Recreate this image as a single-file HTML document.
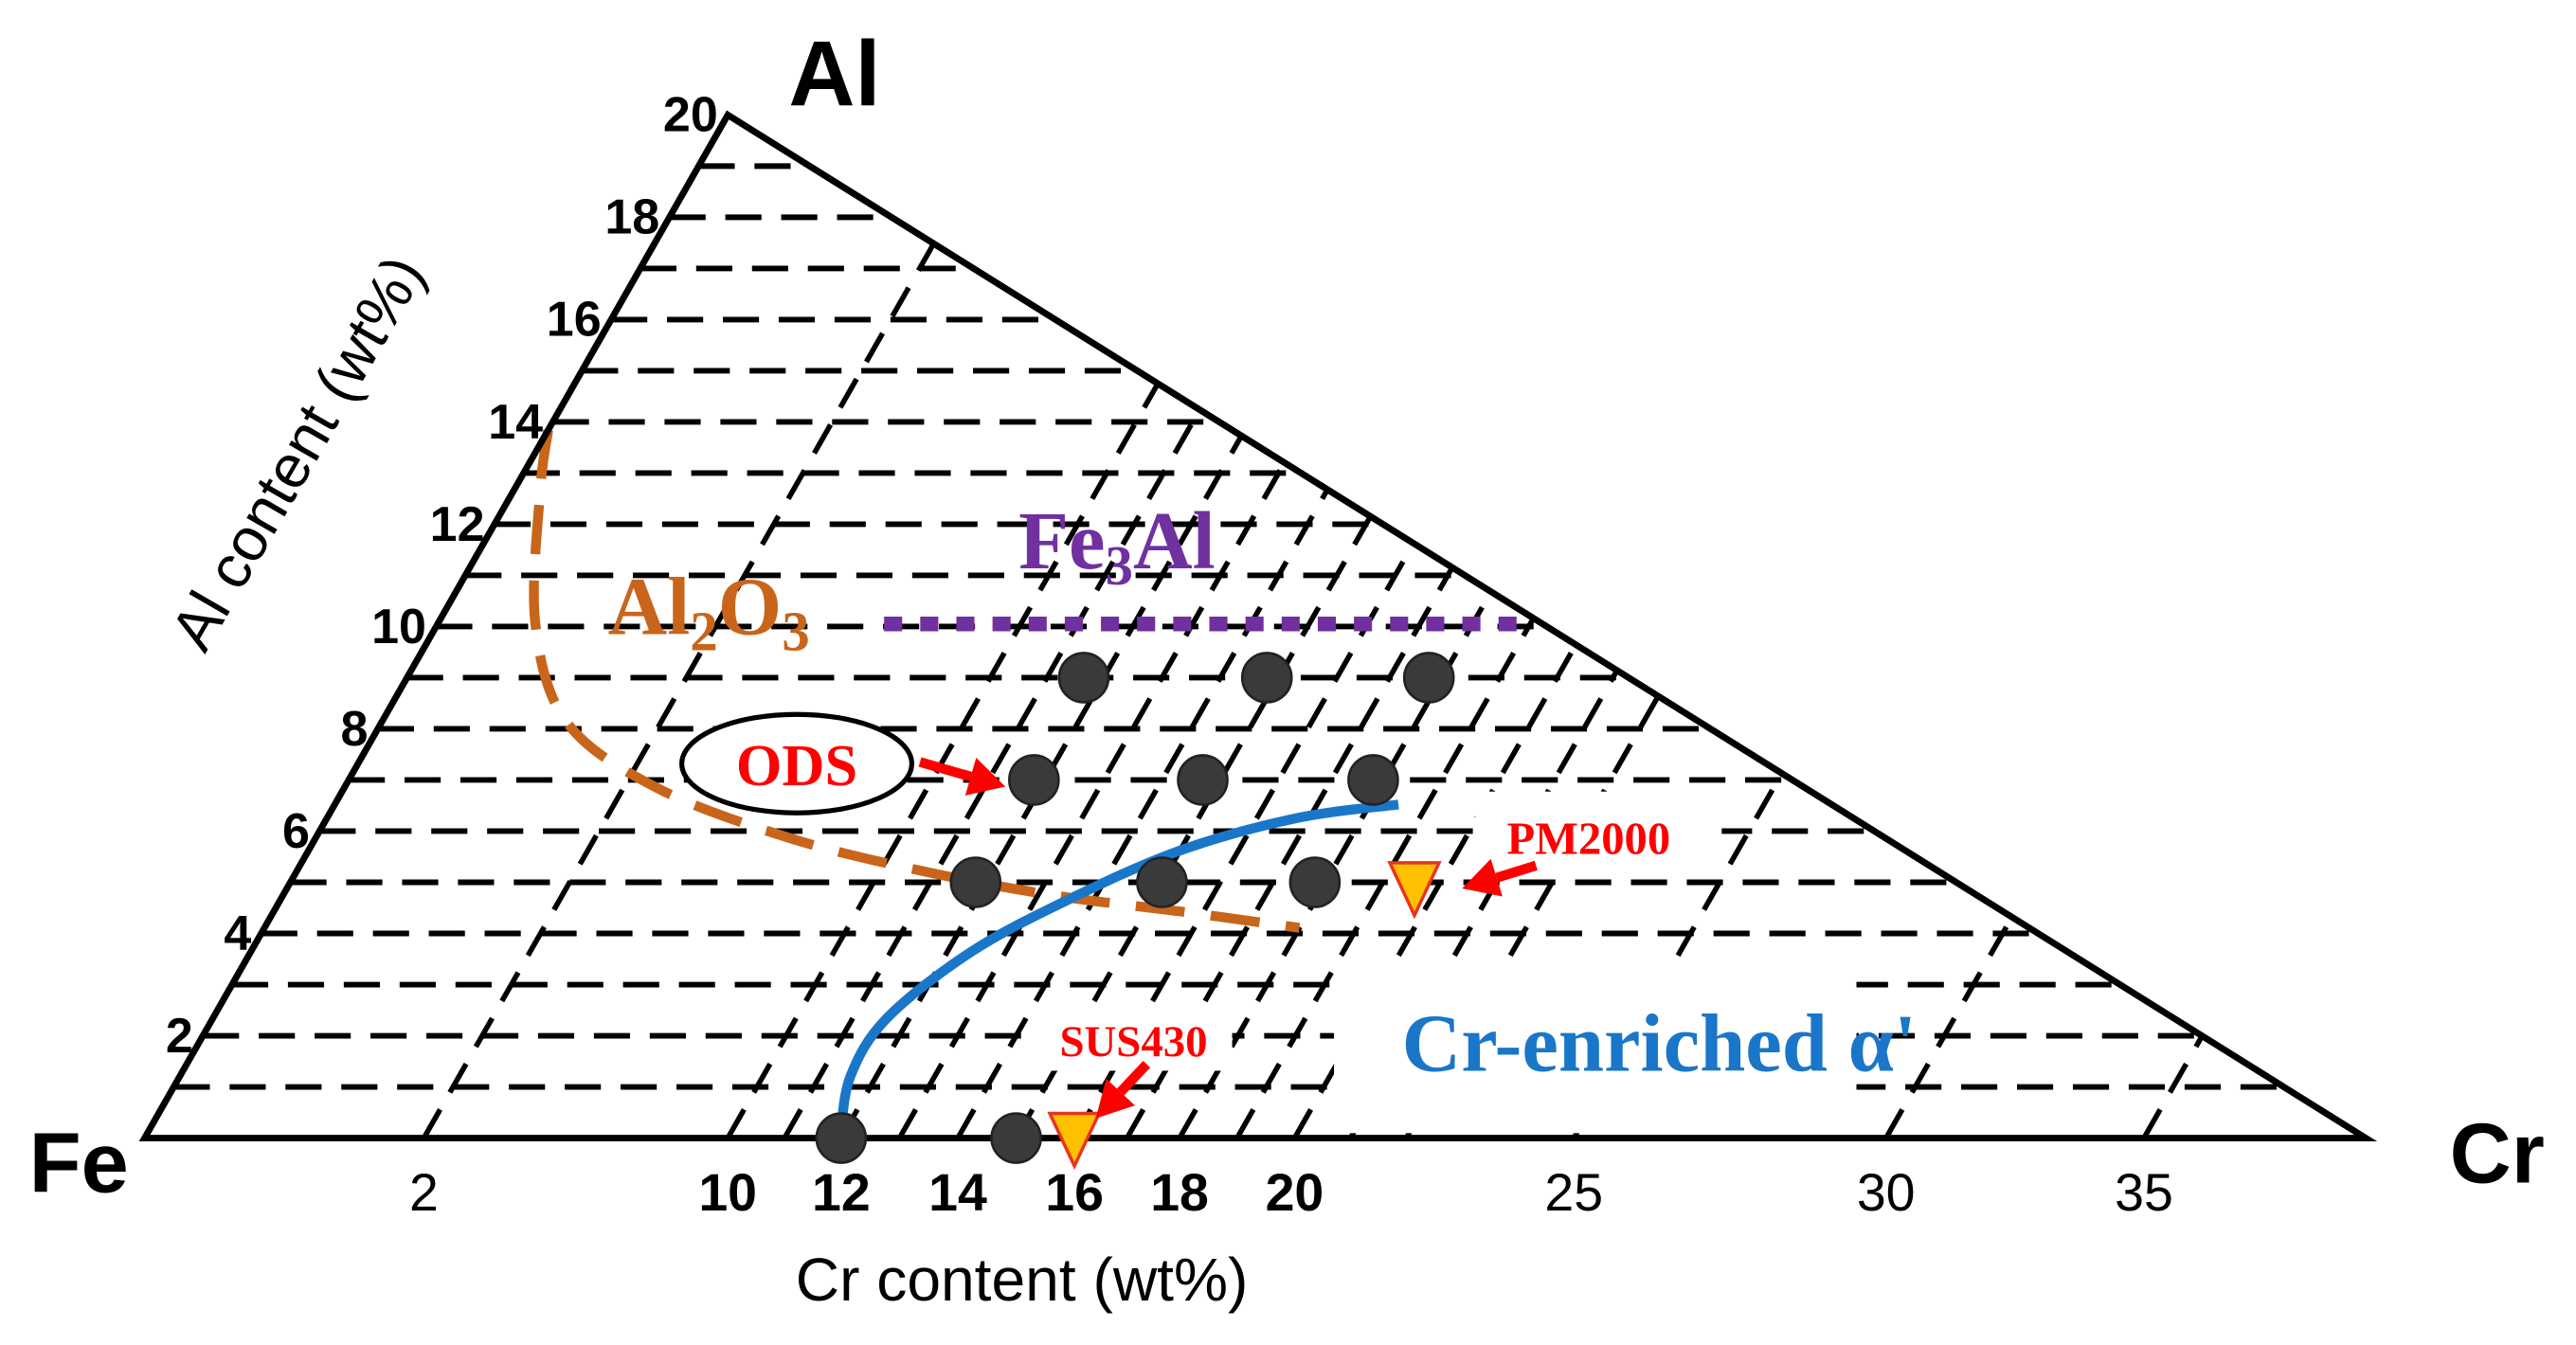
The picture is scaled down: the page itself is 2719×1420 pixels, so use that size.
<!DOCTYPE html>
<html><head><meta charset="utf-8"><style>
html,body{margin:0;padding:0;background:#fff;}
svg{display:block;}
</style></head><body>
<svg id="chart" width="2719" height="1420" viewBox="0 0 1568 819" preserveAspectRatio="none" xmlns="http://www.w3.org/2000/svg">
<g id="grid"></g>
<g id="masks"></g>
<g id="curves"></g>
<g id="frame"></g>
<g id="marks"></g>
<g id="labels"></g>
</svg>
<script>
// ---- data ----
const alTicks = [2,4,6,8,10,12,14,16,18,20];
const crTickValues = [2,10,12,14,16,18,20,25,30,35];
const crTickLabels = ["2","10","12","14","16","18","20","25","30","35"];
const crTickBold = [false,true,true,true,true,true,true,false,false,false];
const crGridValues = [2,10,11,12,13,14,15,16,17,18,19,20,21,22,25,30,35];
const alGridValues = [1,2,3,4,5,6,7,8,9,10,11,12,13,14,15,16,17,18,19];
const sampleCr = [11.65,14.8,17.75,11.8,14.7,17.8,11.8,15,17.8,12,15];
const sampleAl = [9,9,9,7,7,7,5,5,5,0,0];
const refNames = ["PM2000","SUS430"];
const refCr = [19.6,16];
const refAl = [4.9,0];
const al2o3Cr = [0,0.2,0.7,1.33,2.9,7.1,10.7,13.24,15.6,18.0];
const al2o3Al = [13.84,12.6,10.05,8.12,6.84,5.87,5.23,4.75,4.43,4.11];
const alphaCr = [11.94,11.54,11.6,12.4,13.55,15.0,16.78,18.5];
const alphaAl = [0.1,1.22,2.34,3.63,4.65,5.62,6.26,6.52];
const fe3alCr = [6.4,18.9];
const fe3alAl = [10.05,10.05];

// ---- axis (Cr axis is piecewise, as in the reference) ----
const axCr = [0,2,10,12,14,16,18,20,25,30,35,39];
const axPx = [88,258,443,512,583,654,718,788,958,1148,1305,1440];
const Y0=693, AL_PX=31.15, AL_DX=17.75, RIGHT_DX=49.85;
function baseX(c){
  for(let i=0;i<axCr.length-1;i++){
    if(c<=axCr[i+1]||i===axCr.length-2){
      return axPx[i]+(c-axCr[i])/(axCr[i+1]-axCr[i])*(axPx[i+1]-axPx[i]);
    }
  }
}
function px(c,a){return baseX(c)+a*AL_DX;}
function py(a){return Y0-a*AL_PX;}
const NS="http://www.w3.org/2000/svg";
function mk(tag,attrs,parent){const e=document.createElementNS(NS,tag);for(const k in attrs)e.setAttribute(k,attrs[k]);parent.appendChild(e);return e;}
const G=id=>document.getElementById(id);

alGridValues.forEach(a=>{
  const y=py(a);
  const l=mk('line',{x1:88+a*AL_DX,y1:y,x2:1440-a*RIGHT_DX,y2:y,stroke:'#000','stroke-width':3.4,'stroke-dasharray':'22 12'},G('grid'));
  
  
});
crGridValues.forEach(c=>{
  const b=baseX(c);
  const aTop=(1440-b)/(AL_DX+RIGHT_DX);
  const l=mk('line',{x1:b,y1:Y0,x2:b+aTop*AL_DX,y2:py(aTop),stroke:'#000','stroke-width':3.2,'stroke-dasharray':'20 12'},G('grid'));
  
  
});
[[812,585,318,105],[628,612,122,40],[898,482,150,48]].forEach(r=>{
  const e=mk('rect',{x:r[0],y:r[1],width:r[2],height:r[3],fill:'#fff'},G('masks'));
  
  
});
function pathFrom(cs,as){
  let pts=cs.map((c,i)=>[px(c,as[i]),py(as[i])]);
  let d='M'+pts[0].join(',');
  for(let i=1;i<pts.length;i++){
    const p0=pts[Math.max(0,i-2)],p1=pts[i-1],p2=pts[i],p3=pts[Math.min(pts.length-1,i+1)];
    const c1=[p1[0]+(p2[0]-p0[0])/6,p1[1]+(p2[1]-p0[1])/6];
    const c2=[p2[0]-(p3[0]-p1[0])/6,p2[1]-(p3[1]-p1[1])/6];
    d+=' C'+c1.join(',')+' '+c2.join(',')+' '+p2.join(',');
  }
  return d;
}
const al2=mk('path',{d:pathFrom(al2o3Cr,al2o3Al),fill:'none',stroke:'#c8651b','stroke-width':6,'stroke-dasharray':'30 16'},G('curves'));


const alp=mk('path',{d:pathFrom(alphaCr,alphaAl),fill:'none',stroke:'#1a76c8','stroke-width':6},G('curves'));


const fe=mk('line',{x1:px(fe3alCr[0],fe3alAl[0]),y1:py(fe3alAl[0]),x2:px(fe3alCr[1],fe3alAl[1]),y2:py(fe3alAl[1]),stroke:'#7030a0','stroke-width':9,'stroke-dasharray':'11 11'},G('curves'));


const fr=mk('polygon',{points:'88,693 443,70 1440,693',fill:'none',stroke:'#000','stroke-width':4,'stroke-linejoin':'miter'},G('frame'));


sampleCr.forEach((c,i)=>{
  const e=mk('ellipse',{cx:px(c,sampleAl[i]),cy:py(sampleAl[i]),rx:15,ry:15,fill:'#3a3a3a',stroke:'#222','stroke-width':1.5},G('marks'));
  
  
});
refCr.forEach((c,i)=>{
  const x=px(c,refAl[i]),y=py(refAl[i]);
  const e=mk('polygon',{points:(x-15)+','+(y-15)+' '+(x+15)+','+(y-15)+' '+x+','+(y+17),fill:'#ffc000',stroke:'#e8341c','stroke-width':2},G('marks'));
  
  
});
function arrow(x1,y1,x2,y2,name){
  const g=mk('g',{},G('marks'));
  
  
  const ang=Math.atan2(y2-y1,x2-x1),L=22,W=12;
  const bx=x2-L*Math.cos(ang),by=y2-L*Math.sin(ang);
  mk('line',{x1:x1,y1:y1,x2:bx,y2:by,stroke:'#f00','stroke-width':6},g);
  mk('polygon',{points:x2+','+y2+' '+(bx+W*Math.sin(ang))+','+(by-W*Math.cos(ang))+' '+(bx-W*Math.sin(ang))+','+(by+W*Math.cos(ang)),fill:'#f00'},g);
}
arrow(560,464,612,479,'ods-arrow');
arrow(935,527,890,541,'pm2000-arrow');
arrow(698,648,667,681,'sus430-arrow');
const od=mk('ellipse',{cx:485,cy:465,rx:70,ry:30,fill:'#fff',stroke:'#000','stroke-width':3},G('marks'));



function txt(s,x,y,attrs,name){
  const t=mk('text',Object.assign({x:x,y:y},attrs),G('labels'));
  t.textContent=s;
  
  
  return t;
}
const SANS='Liberation Sans, DejaVu Sans, sans-serif', SERIF='Liberation Serif, serif';
alTicks.forEach(a=>{
  txt(String(a),88+a*AL_DX-6,py(a)+10,{'font-family':SANS,'font-size':30,'font-weight':'bold','text-anchor':'end'},'al-tick-label');
});
crTickValues.forEach((c,i)=>{
  txt(crTickLabels[i],baseX(c),737,{'font-family':SANS,'font-size':32,'font-weight':crTickBold[i]?'bold':'normal','text-anchor':'middle'},'cr-tick-label');
});
txt('Al',508,64,{'font-family':SANS,'font-size':56,'font-weight':'bold','text-anchor':'middle'},'al-vertex-label');
txt('Fe',48,726,{'font-family':SANS,'font-size':52,'font-weight':'bold','text-anchor':'middle'},'fe-vertex-label');
txt('Cr',1520,720,{'font-family':SANS,'font-size':52,'font-weight':'bold','text-anchor':'middle'},'cr-vertex-label');
txt('Cr content (wt%)',622,792,{'font-family':SANS,'font-size':37,'text-anchor':'middle'},'x-axis-title');
txt('Al content (wt%)',0,0,{'font-family':SANS,'font-size':37,'text-anchor':'middle',transform:'translate(192,282) rotate(-60)'},'y-axis-title');
const a2=txt('',370,386,{'font-family':SERIF,'font-size':50,'font-weight':'bold',fill:'#c8651b'},'al2o3-label');
a2.innerHTML='Al<tspan font-size="34" dy="10">2</tspan><tspan dy="-10">O</tspan><tspan font-size="34" dy="10">3</tspan>';
const f3=txt('',620,346,{'font-family':SERIF,'font-size':50,'font-weight':'bold',fill:'#7030a0'},'fe3al-label');
f3.innerHTML='Fe<tspan font-size="34" dy="10">3</tspan><tspan dy="-10">Al</tspan>';
txt('ODS',485,478,{'font-family':SERIF,'font-size':36,'font-weight':'bold',fill:'#f00','text-anchor':'middle'},'ods-label');
txt('PM2000',967,520,{'font-family':SERIF,'font-size':28,'font-weight':'bold',fill:'#f00','text-anchor':'middle'},'pm2000-label');
txt('SUS430',690,643,{'font-family':SERIF,'font-size':27,'font-weight':'bold',fill:'#f00','text-anchor':'middle'},'sus430-label');
txt("Cr-enriched α'",1010,652,{'font-family':SERIF,'font-size':50,'font-weight':'bold',fill:'#1a76c8','text-anchor':'middle'},'alpha-prime-label');
</script>
</body></html>
